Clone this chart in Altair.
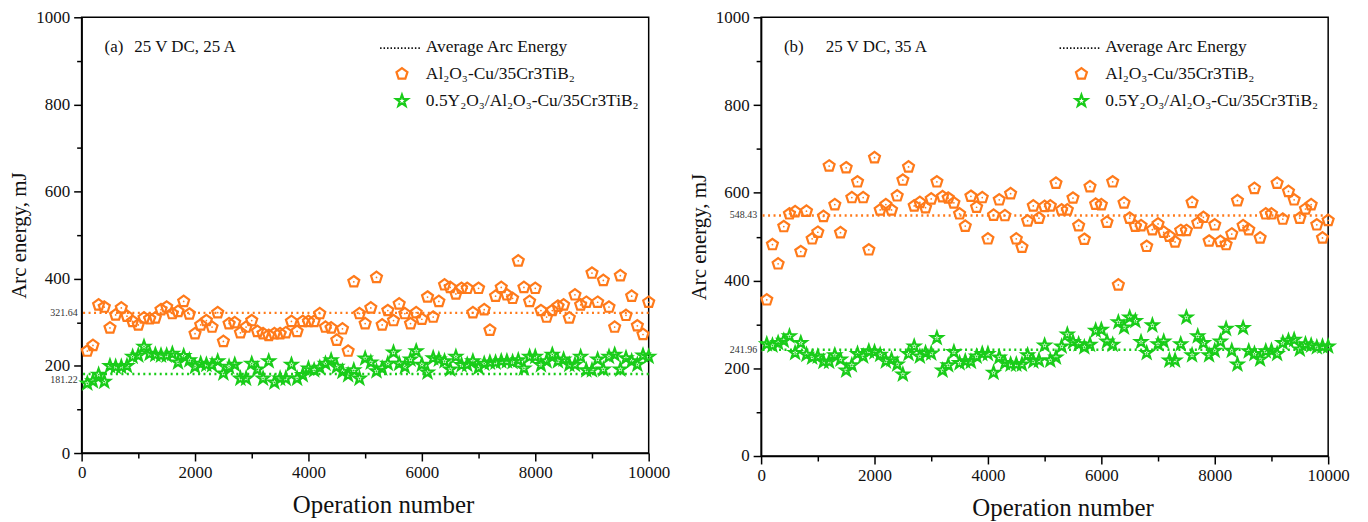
import altair as alt
import pandas as pd

ops = list(range(100, 10001, 100))

a_orange = [234, 247, 340, 335, 287, 317, 333, 314, 302, 294,
            310, 308, 310, 329, 335, 320, 325, 348, 319, 274,
            294, 304, 289, 322, 256, 297, 299, 276, 289, 304,
            279, 274, 270, 274, 274, 276, 302, 279, 302, 302,
            302, 320, 289, 287, 259, 285, 234, 393, 320, 297,
            333, 403, 294, 327, 304, 342, 320, 297, 322, 307,
            358, 312, 348, 386, 380, 365, 378, 378, 322, 378,
            329, 282, 360, 380, 363, 355, 441, 380, 348, 378,
            327, 312, 327, 337, 340, 310, 363, 340, 346, 413,
            346, 396, 335, 289, 407, 316, 360, 292, 272, 346]
a_green = [160, 165, 180, 164, 200, 198, 198, 200, 221, 224,
           244, 228, 226, 224, 224, 228, 208, 223, 213, 198,
           205, 203, 202, 211, 183, 198, 203, 171, 171, 205,
           192, 171, 211, 162, 171, 171, 203, 171, 179, 194,
           190, 196, 205, 213, 198, 187, 179, 190, 171, 217,
           208, 188, 194, 205, 231, 205, 198, 215, 234, 203,
           185, 218, 215, 211, 192, 221, 202, 203, 211, 196,
           205, 208, 208, 211, 211, 209, 213, 194, 221, 221,
           202, 211, 226, 211, 215, 203, 203, 221, 190, 190,
           215, 192, 221, 226, 192, 218, 211, 203, 224, 221]
b_orange = [356, 482, 438, 523, 552, 557, 466, 558, 495, 510,
            546, 661, 573, 509, 657, 589, 625, 589, 470, 680,
            561, 573, 561, 593, 629, 659, 570, 578, 566, 586,
            625, 591, 588, 577, 552, 524, 592, 567, 589, 495,
            549, 584, 548, 598, 495, 476, 536, 570, 542, 569,
            570, 622, 561, 561, 588, 525, 494, 614, 574, 573,
            533, 625, 390, 577, 542, 524, 525, 478, 516, 529,
            510, 501, 488, 514, 514, 578, 531, 544, 490, 527,
            489, 482, 506, 582, 525, 516, 610, 497, 552, 552,
            622, 540, 603, 584, 542, 563, 573, 527, 497, 537]
b_green = [255, 252, 258, 263, 273, 235, 258, 231, 225, 227,
           215, 215, 230, 220, 195, 207, 233, 227, 239, 237,
           231, 216, 220, 209, 186, 233, 250, 227, 235, 234,
           269, 195, 207, 237, 212, 216, 215, 227, 233, 233,
           190, 225, 212, 209, 209, 209, 230, 216, 218, 252,
           218, 225, 250, 277, 260, 255, 248, 254, 286, 288,
           261, 254, 305, 293, 316, 308, 260, 235, 298, 255,
           261, 218, 218, 255, 316, 230, 273, 258, 230, 240,
           261, 290, 240, 209, 292, 239, 233, 220, 239, 240,
           233, 258, 263, 265, 243, 255, 252, 248, 250, 250]

avg_a = [321.64, 181.22]
avg_b = [548.43, 241.96]
panel_tags = ["(a)", "(b)"]
conditions = ["25 V DC, 25 A", "25 V DC, 35 A"]
series_names = ["Al₂O₃-Cu/35Cr3TiB₂", "0.5Y₂O₃/Al₂O₃-Cu/35Cr3TiB₂"]
avg_name = "Average Arc Energy"
x_ticks = list(range(0, 10001, 1000))
y_ticks = list(range(0, 1001, 100))

ORANGE = "#FF7A1A"
GREEN = "#19CC19"
PENT = "M0,-1L0.951,-0.309L0.588,0.809L-0.588,0.809L-0.951,-0.309Z"
STAR = ("M0,-1L0.235,-0.324L0.951,-0.309L0.380,0.124L0.588,0.809L0,0.4"
        "L-0.588,0.809L-0.380,0.124L-0.951,-0.309L-0.235,-0.324Z")
FONT = "Liberation Serif"
W = 570
PSIZE = 135
SSIZE = 150


def panel(orange, green, avgs, tag, cond, cond_x, height):
    df = pd.DataFrame({
        "op": ops + ops,
        "energy": orange + green,
        "series": [series_names[0]] * len(ops) + [series_names[1]] * len(ops),
    })
    color = alt.Color("series:N", scale=alt.Scale(domain=series_names, range=[ORANGE, GREEN]), legend=None)
    shape = alt.Shape("series:N", scale=alt.Scale(domain=series_names, range=[PENT, STAR]), legend=None)
    size = alt.Size("series:N", scale=alt.Scale(domain=series_names, range=[PSIZE, SSIZE]), legend=None)
    xenc = alt.X("op:Q", scale=alt.Scale(domain=[0, 10000], nice=False, zero=False),
                 axis=alt.Axis(title="Operation number", values=x_ticks, format="d",
                               labelExpr="datum.value % 2000 === 0 ? datum.label : ''",
                               tickSize={"condition": {"test": "datum.value % 2000 === 0", "value": 8}, "value": 5},
                               labelPadding=4, titlePadding=12, labelFlush=False,
                               titleFontSize=25, titleX=W / 2 + 18))
    yenc = alt.Y("energy:Q", scale=alt.Scale(domain=[0, 1000], nice=False),
                 axis=alt.Axis(title="Arc energy, mJ", values=y_ticks, format="d",
                               labelExpr="datum.value % 200 === 0 ? datum.label : ''",
                               tickSize={"condition": {"test": "datum.value % 200 === 0", "value": 8}, "value": 5},
                               labelPadding=4, titlePadding=6, labelFlush=False))
    pts = alt.Chart(df).mark_point(filled=False, strokeWidth=2.2, opacity=1).encode(
        x=xenc, y=yenc, color=color, shape=shape, size=size)
    dots = alt.Chart(df).mark_circle(size=3, opacity=1).encode(x="op:Q", y="energy:Q", color=color)

    avg_df = pd.DataFrame({"energy": avgs, "series": series_names,
                           "label": [f"{v:.2f}" for v in avgs]})
    rules = alt.Chart(avg_df).mark_rule(strokeDash=[2, 3.5], strokeWidth=2.5).encode(
        y="energy:Q", color=color)
    avg_hi = alt.Chart(avg_df).transform_filter("datum.energy >= 200").mark_text(
        align="right", baseline="middle", fontSize=10, font=FONT, color="#333").encode(
        y="energy:Q", x=alt.value(-4), text="label:N")
    avg_lo = alt.Chart(avg_df).transform_filter("datum.energy < 200").mark_text(
        align="right", baseline="middle", fontSize=10, font=FONT, color="#333", dy=6).encode(
        y="energy:Q", x=alt.value(-4), text="label:N")

    one = pd.DataFrame({"k": [0]})
    tag_txt = alt.Chart(one).mark_text(align="left", baseline="middle", fontSize=17, font=FONT,
                                       color="#111", text=tag).encode(x=alt.value(23), y=alt.value(30))
    cond_txt = alt.Chart(one).mark_text(align="left", baseline="middle", fontSize=17, font=FONT,
                                        color="#111", text=cond).encode(x=alt.value(cond_x), y=alt.value(30))
    leg_line = alt.Chart(one).mark_rule(strokeDash=[1.5, 2], strokeWidth=2, color="#111").encode(
        x=alt.value(300), x2=alt.value(341), y=alt.value(31))
    leg_t0 = alt.Chart(one).mark_text(align="left", baseline="middle", fontSize=17.5, font=FONT,
                                      color="#111", text=avg_name).encode(x=alt.value(346), y=alt.value(30))
    leg_p = alt.Chart(one).mark_point(shape=PENT, filled=False, size=PSIZE, strokeWidth=2.2,
                                      color=ORANGE, opacity=1).encode(x=alt.value(322), y=alt.value(57))
    leg_s = alt.Chart(one).mark_point(shape=STAR, filled=False, size=SSIZE, strokeWidth=2.2,
                                      color=GREEN, opacity=1).encode(x=alt.value(322), y=alt.value(84))
    leg_t1 = alt.Chart(one).mark_text(align="left", baseline="middle", fontSize=17.5, font=FONT,
                                      color="#111", text=series_names[0]).encode(x=alt.value(346), y=alt.value(57))
    leg_t2 = alt.Chart(one).mark_text(align="left", baseline="middle", fontSize=17.5, font=FONT,
                                      color="#111", text=series_names[1]).encode(x=alt.value(346), y=alt.value(84))

    return alt.layer(rules, pts, dots, avg_hi, avg_lo, tag_txt, cond_txt, leg_line, leg_t0,
                     leg_p, leg_s, leg_t1, leg_t2).properties(width=W, height=height)


left = panel(a_orange, a_green, avg_a, panel_tags[0], conditions[0], 53, 438)
right = panel(b_orange, b_green, avg_b, panel_tags[1], conditions[1], 65, 441)

chart = alt.hconcat(left, right, spacing=113, bounds="flush").properties(
    padding={"top": -2, "left": 0, "right": 10, "bottom": 0}
).configure_view(stroke="black", strokeWidth=1.5).configure_axis(
    domainColor="black", domainWidth=1.5, tickColor="black", tickWidth=1.5,
    labelFont=FONT, labelFontSize=17, labelColor="#111",
    titleFont=FONT, titleFontSize=21, titleFontWeight="normal", titleColor="#111", grid=False
)

chart.save("out.html", embed_options={"renderer": "svg", "actions": False})
